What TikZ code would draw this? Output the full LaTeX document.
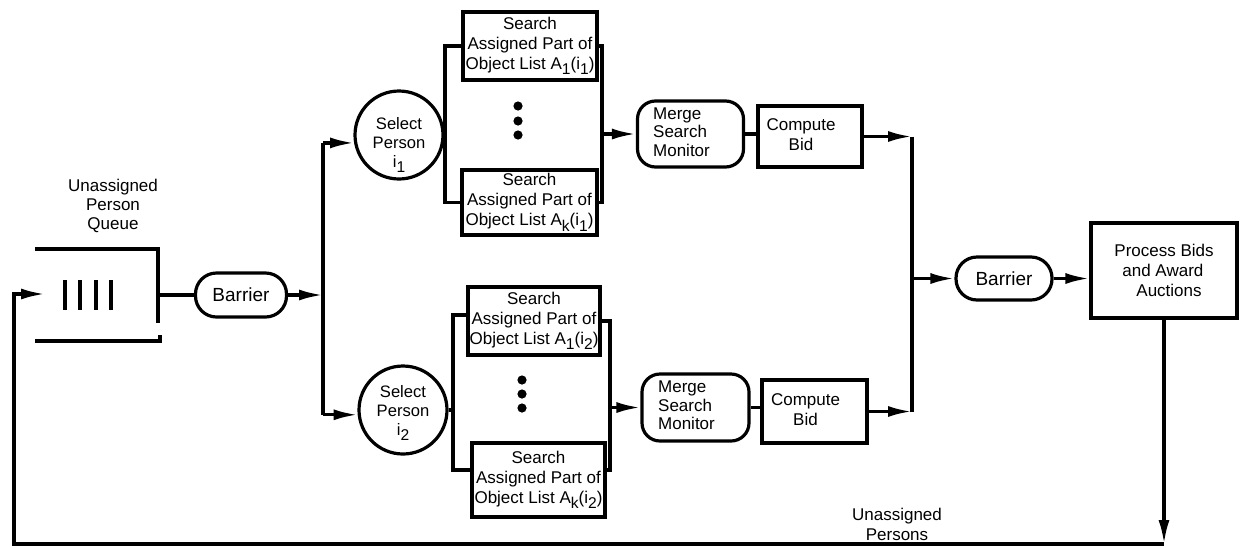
\documentclass[tikz,border=0pt]{standalone}
\usepackage{fontspec}
\setmainfont{Liberation Sans}
\usetikzlibrary{arrows.meta}
% lowered index, as in A_1(i_1)
\newcommand{\lo}[1]{\raisebox{-0.6ex}{\fontsize{7.8}{7.8}\selectfont #1}}
\begin{document}
\begin{tikzpicture}[x=0.5pt,y=-0.5pt,line width=1.6pt,
  arr/.style={-{Latex[length=12pt,width=5.5pt]}},
  txt/.style={font=\fontsize{8.5}{10}\selectfont,align=center,inner sep=0pt},
  box/.style={draw,rectangle,txt},
  pill/.style={draw,rectangle,rounded corners=10.5pt,inner sep=0pt,
    minimum height=22pt,font=\fontsize{9.5}{11}\selectfont},
  mergebox/.style={draw,rectangle,rounded corners=9pt,inner sep=0pt,
    minimum width=53pt,minimum height=33pt,font=\fontsize{8.5}{9.25}\selectfont},
  bidbox/.style={draw,rectangle,inner sep=0pt,minimum width=52pt,
    minimum height=31pt,font=\fontsize{8.5}{10}\selectfont},
  selcircle/.style={draw,circle,inner sep=0pt,minimum size=44pt},
  seltext/.style={align=center,font=\fontsize{8.3}{9.5}\selectfont,inner sep=0pt},
  dot/.style={fill=black}]
\useasboundingbox (0,0) rectangle (1240,547);

% ---- unassigned person queue ----
\node[txt,font=\fontsize{8.5}{9.5}\selectfont] (qlabel) at (113,206) {Unassigned\\Person\\Queue};
\draw (35,249) -- (158,249) -- (158,323);
\draw (160,335) -- (160,341) -- (35,341);
\foreach \x in {65,80,96,111} \draw (\x,280) -- (\x,310);
\coordinate (qout) at (158,295);
\coordinate (qin) at (45,294);

% ---- nodes ----
\node[pill,minimum width=45.5pt] (bar1) at (241,295) {Barrier};

\node[selcircle,label={[seltext,yshift=-5pt]center:Select\\Person\\i\lo{1}}] (sel1) at (399,135) {};
\node[selcircle,label={[seltext,yshift=-1.5pt]center:Select\\Person\\i\lo{2}}] (sel2) at (403,410) {};

\node[box,minimum width=67pt,minimum height=34pt] (s11) at (530,46)
  {Search\\Assigned Part of\\Object List A\lo{1}(i\lo{1})};
\node[box,minimum width=67.5pt,minimum height=32.5pt] (s1k) at (529.5,202.5)
  {Search\\Assigned Part of\\Object List A\lo{k}(i\lo{1})};
\node[box,minimum width=66pt,minimum height=34pt] (s21) at (534,321)
  {Search\\Assigned Part of\\Object List A\lo{1}(i\lo{2})};
\node[box,minimum width=66.5pt,minimum height=37pt] (s2k) at (538.5,480)
  {Search\\Assigned Part of\\Object List A\lo{k}(i\lo{2})};

\node[mergebox] (mrg1) at (690.5,134)
  {\begin{tabular}{@{}l@{\hspace{9pt}}}Merge\\Search\\Monitor\end{tabular}};
\node[mergebox,minimum width=53.5pt,minimum height=33.5pt] (mrg2) at (695.5,407.5)
  {\begin{tabular}{@{}l@{\hspace{9pt}}}Merge\\Search\\Monitor\end{tabular}};

\node[bidbox,minimum height=30.5pt] (cb1) at (810,136.5)
  {\begin{tabular}{@{}c@{\hspace{9pt}}}Compute\\Bid\end{tabular}};
\node[bidbox,minimum width=52.5pt,minimum height=31.5pt] (cb2) at (814.5,411.5)
  {\begin{tabular}{@{}c@{\hspace{9pt}}}Compute\\Bid\end{tabular}};

\node[pill,minimum width=48pt,minimum height=21.5pt] (bar2) at (1004,278.5) {Barrier};

\node[box,minimum width=73pt,minimum height=47.5pt,align=left] (proc) at (1164,270.5)
  {Process Bids\\\hspace*{4pt}and Award\\\hspace*{11pt}Auctions};

\node[txt] (fblabel) at (897,524) {Unassigned\\Persons};

% ---- ellipsis dots ----
\foreach \y in {106,121,135} \fill[dot] (518,\y) circle (2.3pt);
\foreach \y in {380,394,408} \fill[dot] (522,\y) circle (2.3pt);

% ---- rails ----
\coordinate (trunkL) at (323,0);
\coordinate (lb1) at (445,0);
\coordinate (rb1) at (602,0);
\coordinate (lb2) at (453,0);
\coordinate (rb2) at (610,0);
\coordinate (trunkR) at (912,0);
\coordinate (fbturn) at (14,544);
\coordinate (fbend) at (proc.south |- fbturn);

% ---- connectors ----
\draw (qout) -- (bar1.west);
\draw[arr] (bar1.east) -- (bar1.east -| trunkL);
\draw (sel1.190 -| trunkL) -- (sel2.186 -| trunkL);
\draw[arr] (sel1.190 -| trunkL) -- (sel1.190);
\draw[arr] (sel2.186 -| trunkL) -- (sel2.186);

% first person
\draw (sel1.east) -- (sel1.east -| lb1);
\draw (s11.west) -- (s11.west -| lb1) -- (s1k.west -| lb1) -- (s1k.west);
\draw (s11.east) -- (s11.east -| rb1) -- (s1k.east -| rb1) -- (s1k.east);
\draw[arr] (mrg1.west -| rb1) -- (mrg1.west);
\draw (mrg1.east) -- (mrg1.east -| cb1.west);
\draw[arr] (cb1.east) -- (cb1.east -| trunkR);

% second person
\draw (sel2.east) -- (sel2.east -| lb2);
\draw ([yshift=3pt]s21.west) -- ([yshift=3pt]s21.west -| lb2)
  -- ([yshift=5pt]s2k.west -| lb2) -- ([yshift=5pt]s2k.west);
\draw (s21.east) -- (s21.east -| rb2) -- ([yshift=5pt]s2k.east -| rb2) -- ([yshift=5pt]s2k.east);
\draw[arr] (mrg2.west -| rb2) -- (mrg2.west);
\draw (mrg2.east) -- (mrg2.east -| cb2.west);
\draw[arr] (cb2.east) -- (cb2.east -| trunkR);

% join and award
\draw (cb1.east -| trunkR) -- (cb2.east -| trunkR);
\draw[arr] (bar2.west -| trunkR) -- (bar2.west);
\draw[arr] (bar2.east) -- (bar2.east -| proc.west);

% feedback of unassigned persons
\draw[arr] (proc.south) -- (fbend);
\draw[arr] (fbend) -- (fbturn) -- (fbturn |- qin) -- (qin);
\end{tikzpicture}
\end{document}
